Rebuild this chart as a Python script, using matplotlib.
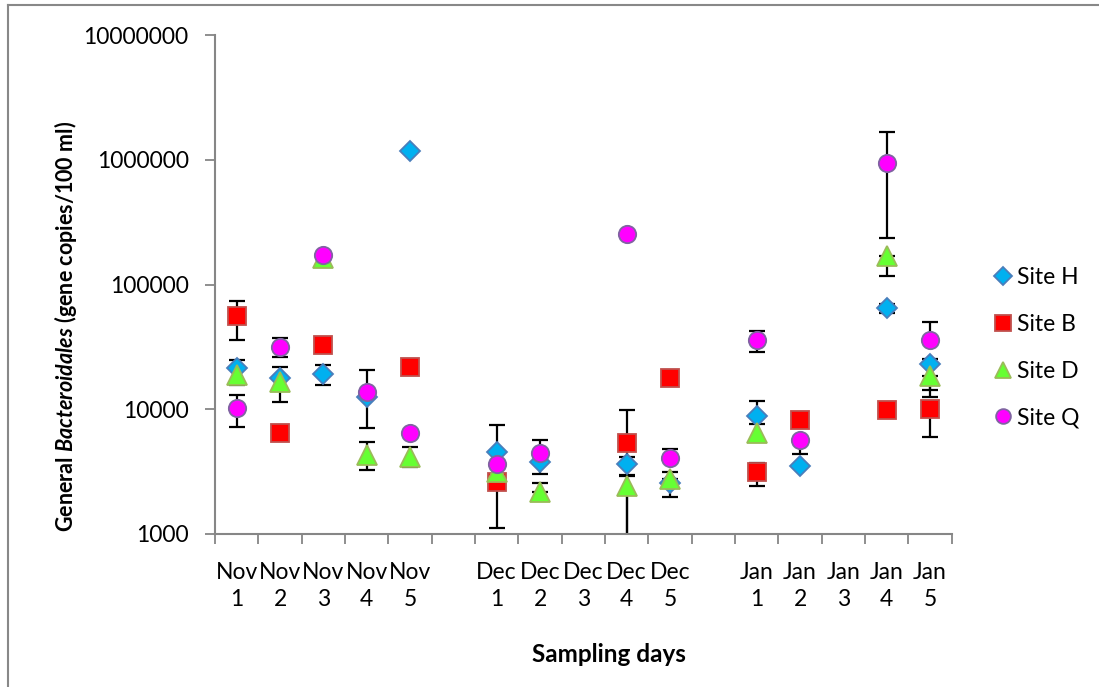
import numpy as np
import matplotlib
matplotlib.use("Agg")
import matplotlib.pyplot as plt
from matplotlib.lines import Line2D

plt.rcParams['font.family'] = ['Lato', 'DejaVu Sans']
plt.rcParams['mathtext.fontset'] = 'custom'
plt.rcParams['mathtext.it'] = 'Lato:italic:bold'
plt.rcParams['mathtext.rm'] = 'Lato:bold'
plt.rcParams['mathtext.bf'] = 'Lato:bold'

nan = np.nan
categories = ["Nov\n1", "Nov\n2", "Nov\n3", "Nov\n4", "Nov\n5", "",
              "Dec\n1", "Dec\n2", "Dec\n3", "Dec\n4", "Dec\n5", "",
              "Jan\n1", "Jan\n2", "Jan\n3", "Jan\n4", "Jan\n5"]

site_h = [21300, 17700, 19200, 12600, 1175000, nan, 4570, 3800, nan, 3640, 2550, nan, 8830, 3530, nan, 64400, 22900]
site_h_lo = [15600, nan, 15600, 7030, nan, nan, nan, 3030, nan, 2900, 1970, nan, 7620, nan, nan, 59000, 12600]
site_h_hi = [24800, nan, 22600, 20600, nan, nan, nan, nan, nan, 4180, nan, nan, 11600, nan, nan, 70000, 25500]

site_b = [55900, 6410, 32700, nan, 21700, nan, 2620, nan, nan, 5400, 17800, nan, 3120, 8200, nan, 9860, 10100]
site_b_lo = [35900, nan, nan, nan, nan, nan, 1110, nan, nan, 500, nan, nan, 2440, nan, nan, nan, 5950]
site_b_hi = [74100, nan, nan, nan, nan, nan, 7480, nan, nan, 9860, nan, nan, 3730, nan, nan, nan, nan]

site_d = [18800, 16600, 163000, 4300, 4170, nan, 3160, 2180, nan, 2430, 2740, nan, 6410, nan, nan, 169000, 18500]
site_d_lo = [nan, 11500, nan, 3260, 3470, nan, nan, nan, nan, 500, nan, nan, nan, nan, nan, 116000, 14300]
site_d_hi = [nan, 21900, nan, 5500, 5010, nan, nan, 2550, nan, 2970, 3160, nan, nan, nan, nan, nan, nan]

site_q = [10200, 31700, 172000, 13800, 6490, nan, 3640, 4430, nan, 254000, 4040, nan, 35900, 5680, nan, 936000, 35900]
site_q_lo = [7160, 26400, nan, nan, nan, nan, nan, nan, nan, nan, nan, nan, 28600, 4400, nan, 234000, nan]
site_q_hi = [12900, 37100, nan, nan, nan, nan, nan, 5680, nan, nan, 4800, nan, 42600, nan, nan, 1680000, 50300]

series = [
    ("Site H", site_h, site_h_lo, site_h_hi, 'D', 10.5, '#00B0F0', '#4A7EBB'),
    ("Site B", site_b, site_b_lo, site_b_hi, 's', 13.5, '#FF0000', '#C0504D'),
    ("Site D", site_d, site_d_lo, site_d_hi, '^', 14, '#66FF33', '#9BBB59'),
    ("Site Q", site_q, site_q_lo, site_q_hi, 'o', 12.5, '#FF00FF', '#8064A2'),
]

W, H = 1099, 687
fig = plt.figure(figsize=(W / 100, H / 100), dpi=100)
ax = fig.add_axes([215 / W, 1 - 534 / H, (951.7 - 215) / W, (534 - 35) / H])

x = np.arange(len(categories))
handles = []
for name, vals, lo, hi, mk, ms, fc, ec in series:
    v = np.array(vals, dtype=float)
    l = np.array(lo, dtype=float)
    h = np.array(hi, dtype=float)
    err_lo = np.nan_to_num(v - l, nan=0.0)
    err_hi = np.nan_to_num(h - v, nan=0.0)
    mask = ~np.isnan(v) & ((err_lo > 0) | (err_hi > 0))
    ax.errorbar(x[mask], v[mask], yerr=[err_lo[mask], err_hi[mask]], fmt='none',
                ecolor='black', elinewidth=1.6, capsize=6, capthick=1.6, zorder=2)
    ax.plot(x, v, linestyle='none', marker=mk, markersize=ms, markerfacecolor=fc,
            markeredgecolor=ec, markeredgewidth=1.3, zorder=3)
    handles.append(Line2D([], [], linestyle='none', marker=mk, markersize=ms * 0.85,
                          markerfacecolor=fc, markeredgecolor=ec, markeredgewidth=1.3, label=name))

ax.set_yscale('log')
ax.set_ylim(1000, 1e7)
ax.set_xlim(-0.5, len(categories) - 0.5)
ax.set_yticks([1e3, 1e4, 1e5, 1e6, 1e7])
ax.set_yticklabels(['1000', '10000', '100000', '1000000', '10000000'])
ax.yaxis.set_minor_locator(matplotlib.ticker.NullLocator())

ax.set_xticks(x)
ax.set_xticklabels(categories, linespacing=1.35)
ax.set_xticks(np.arange(-0.5, len(categories), 1.0), minor=True)
ax.tick_params(axis='x', which='major', length=0, pad=20, labelsize=16.5)
ax.tick_params(axis='x', which='minor', length=7, width=1.3, color='#868686', direction='out')
ax.tick_params(axis='y', which='major', length=7, width=1.3, color='#868686', pad=12, labelsize=16.5)

for s in ['top', 'right']:
    ax.spines[s].set_visible(False)
for s in ['left', 'bottom']:
    ax.spines[s].set_color('#868686')
    ax.spines[s].set_linewidth(1.5)

fig.text(66 / W, 1 - 326 / H, "General $Bacteroidales$ (gene copies/100 ml)",
         rotation=90, ha='center', va='center', fontsize=15.5, fontweight='bold')
fig.text(609 / W, 1 - 654 / H, "Sampling days", ha='center', va='center',
         fontsize=17.5, fontweight='bold')

ax.legend(handles=handles, loc='center left', bbox_to_anchor=(980 / W, 1 - 348 / H),
          bbox_transform=fig.transFigure, frameon=False, fontsize=16.5,
          labelspacing=1.12, handletextpad=0.0, handlelength=1.2, borderaxespad=0)

fig.add_artist(Line2D([8 / W, 8 / W], [0, 1 - 5 / H], color='#888888', linewidth=1.5))
fig.add_artist(Line2D([8 / W, 1], [1 - 5 / H, 1 - 5 / H], color='#888888', linewidth=1.5))

fig.savefig("out.png", dpi=100)
